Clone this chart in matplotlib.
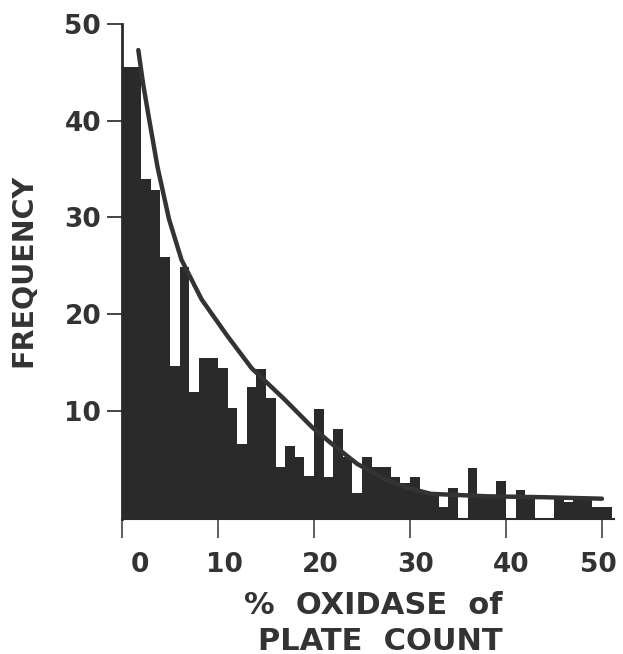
import numpy as np
import matplotlib
matplotlib.use("Agg")
import matplotlib.pyplot as plt
from matplotlib.transforms import ScaledTranslation

# ---- data ----
bin_left = np.arange(0, 51)            # % oxidase of plate count, 1 % bins
frequency = np.array([
    45.5, 45.5, 34.0, 32.8, 25.9, 14.6, 24.9, 11.9, 15.5, 15.5,   # 0-9
    14.4, 10.3, 6.6, 12.5, 14.3, 11.3, 4.2, 6.4, 5.2, 3.2,        # 10-19
    10.2, 3.1, 8.1, 5.2, 1.5, 5.2, 4.2, 4.2, 3.1, 2.5,            # 20-29
    3.1, 1.5, 1.5, 0.0, 2.0, np.nan, 4.1, 1.2, 1.2, 2.7,          # 30-39
    np.nan, 1.8, 1.1, np.nan, np.nan, 1.1, 0.6, 1.0, 1.0, 0.0,    # 40-49
    0.0,                                                           # 50
])
curve_x = [1.7, 2.2, 2.8, 3.7, 4.9, 6.2, 8.3, 11.0, 13.5, 16.9,
           19.8, 21.7, 24.5, 27.4, 29.8, 32.2, 38.0, 44.0, 50.0]
curve_y = [47.3, 43.8, 40.3, 35.2, 29.8, 25.6, 21.5, 17.7, 14.4, 11.2,
           8.3, 6.7, 4.5, 2.9, 2.0, 1.4, 1.15, 1.05, 0.9]
x_ticks = [0, 10, 20, 30, 40, 50]
y_ticks = [10, 20, 30, 40, 50]

BASE = -1.2          # bars start at the drawn baseline, a little below 0
DARK = "#2a2a2a"
TEXT = "#333333"

fig = plt.figure(figsize=(6.23, 6.54), dpi=100)
ax = fig.add_axes([122/623, 135/654, 491.5/623, 497/654])

heights = np.nan_to_num(frequency - BASE, nan=0.0)
ax.bar(bin_left, heights, bottom=BASE, width=1.0, align="edge",
       color=DARK, linewidth=0)
ax.plot(curve_x, curve_y, color="#333333", lw=3.2, solid_capstyle="round",
        solid_joinstyle="round")

ax.set_xlim(0, 51.2)
ax.set_ylim(BASE, 50.2)

for s in ("top", "right"):
    ax.spines[s].set_visible(False)
ax.spines["left"].set_bounds(BASE, 50)
ax.spines["left"].set_linewidth(2.0)
ax.spines["left"].set_color(DARK)
ax.spines["bottom"].set_linewidth(1.5)
ax.spines["bottom"].set_color(DARK)

ax.set_xticks(x_ticks)
ax.set_xticklabels([str(v) for v in x_ticks])
ax.set_yticks(y_ticks)
ax.set_yticklabels([str(v) for v in y_ticks])

ax.tick_params(axis="x", direction="out", length=14, width=1.2, color="#444444",
               pad=10, labelsize=19, labelcolor=TEXT)
ax.tick_params(axis="y", direction="out", length=11, width=1.4, color="#444444",
               pad=4, labelsize=19, labelcolor=TEXT)
for lab in ax.get_xticklabels() + ax.get_yticklabels():
    lab.set_fontweight("bold")
    lab.set_family("DejaVu Sans")
# small horizontal nudges of the x tick labels, as in the original figure
for lab, dx in zip(ax.get_xticklabels(), [18, 6, 6, 6, 5, -4]):
    lab.set_transform(lab.get_transform() + ScaledTranslation(dx/100, 0, fig.dpi_scale_trans))

fig.text(23/623, 1 - 270/654, "FREQUENCY", rotation=90, ha="center", va="center",
         fontsize=20.5, fontweight="bold", color=TEXT, family="DejaVu Sans")
fig.text(373/623, 1 - 605/654, "%  OXIDASE  of", ha="center", va="center",
         fontsize=22, fontweight="bold", color=TEXT, family="DejaVu Sans")
fig.text(380/623, 1 - 641/654, "PLATE  COUNT", ha="center", va="center",
         fontsize=22, fontweight="bold", color=TEXT, family="DejaVu Sans")

fig.savefig("out.png", dpi=100)
